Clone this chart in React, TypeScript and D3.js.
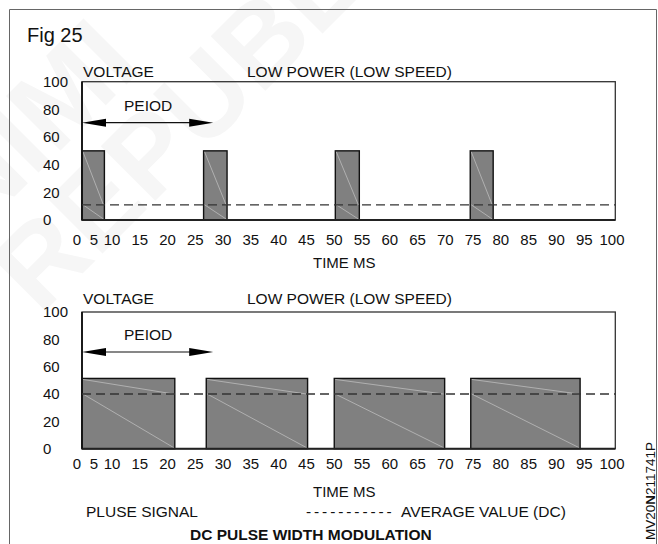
import React from 'react';
import * as d3 from 'd3';

const W = 658;
const H = 544;

// ---- data ----
const yTicks = [0, 20, 40, 60, 80, 100];
const xTickLabels = [0, 5, 10, 15, 20, 25, 30, 35, 40, 45, 50, 55, 60, 65, 70, 75, 80, 85, 90, 95, 100];

const topPulseStart = [0, 22.8, 47.5, 72.8];
const topPulseEnd = [4.2, 27.2, 52.0, 77.1];
const topPulseLevel = 50;
const topAverage = 11;

const bottomPulseStart = [0, 23.3, 47.3, 72.9];
const bottomPulseEnd = [17.4, 42.3, 68.0, 93.4];
const bottomPulseLevel = 51.4;
const bottomAverage = 40;

const periodSpan = [0, 24.6];

const FONT = "'Liberation Sans', Arial, Helvetica, sans-serif";

const x = d3.scaleLinear().domain([0, 100]).range([82, 615.3]);
// tick labels in the figure are typeset as a text row (not exactly on the plot scale)
const xLabel = d3.scaleLinear().domain([0, 5, 10, 100]).range([77, 94, 112, 612]);

type PanelProps = {
  top: number;
  bottom: number;
  starts: number[];
  ends: number[];
  level: number;
  avg: number;
  headerY: number;
  periodY: number;
  arrowY: number;
  tickY: number;
  titleY: number;
};

function Panel(p: PanelProps) {
  const y = d3.scaleLinear().domain([0, 100]).range([p.bottom, p.top]);
  const x0 = x(periodSpan[0]);
  const x1 = x(periodSpan[1]);
  const headLen = 24;
  const headHalf = 4;
  return (
    <g>
      <text x={83} y={p.headerY} fontSize={15.5} fill="#111">VOLTAGE</text>
      <text x={247} y={p.headerY} fontSize={15.5} fill="#111">LOW POWER (LOW SPEED)</text>
      {yTicks.map((t) => (
        <text key={t} x={43} y={y(t)} dy="0.36em" fontSize={15} fill="#111">{t}</text>
      ))}
      {/* pulses */}
      {p.starts.map((s, i) => {
        const bx0 = x(s);
        const bx1 = x(p.ends[i]);
        return (
          <g key={i}>
            <rect x={bx0} y={y(p.level)} width={bx1 - bx0} height={y(0) - y(p.level)}
              fill="#808080" stroke="#111" strokeWidth={1.4} />
            <line x1={bx0 + 1} y1={y(p.level) + 1} x2={bx1 - 1} y2={y(p.avg)} stroke="#c4c4c4" strokeWidth={0.7} />
            <line x1={bx0 + 1} y1={y(p.avg)} x2={bx1 - 1} y2={y(0) - 1} stroke="#c4c4c4" strokeWidth={0.7} />
          </g>
        );
      })}
      {/* plot frame */}
      <rect x={x(0)} y={p.top} width={x(100) - x(0)} height={p.bottom - p.top}
        fill="none" stroke="#333" strokeWidth={1.3} />
      <line x1={x(0)} y1={p.bottom} x2={x(100)} y2={p.bottom} stroke="#222" strokeWidth={2} />
      <line x1={x(0)} y1={p.top} x2={x(0)} y2={p.bottom} stroke="#111" strokeWidth={1.8} />
      {/* average (DC) */}
      <line x1={x(0)} y1={y(p.avg)} x2={x(100)} y2={y(p.avg)} stroke="#333" strokeWidth={1.3} strokeDasharray="9,5" />
      {/* period arrow */}
      <text x={124} y={p.periodY} fontSize={15.5} fill="#111">PEIOD</text>
      <line x1={x0 + headLen - 2} y1={p.arrowY} x2={x1 - headLen + 2} y2={p.arrowY} stroke="#111" strokeWidth={1.2} />
      <path d={`M${x0},${p.arrowY} L${x0 + headLen},${p.arrowY - headHalf} L${x0 + headLen},${p.arrowY + headHalf} Z`} fill="#000" />
      <path d={`M${x1},${p.arrowY} L${x1 - headLen},${p.arrowY - headHalf} L${x1 - headLen},${p.arrowY + headHalf} Z`} fill="#000" />
      {/* x tick labels */}
      {xTickLabels.map((t) => (
        <text key={t} x={xLabel(t)} y={p.tickY} fontSize={15} textAnchor="middle" fill="#111">{t}</text>
      ))}
      <text x={313} y={p.titleY} fontSize={15} fill="#111">TIME MS</text>
    </g>
  );
}

export default function App() {
  return (
    <svg width={W} height={H} style={{ position: 'absolute', left: 0, top: 0, background: '#fff' }}
      fontFamily={FONT}>
      <rect x={0} y={0} width={W} height={H} fill="#fff" />
      {/* faint watermark */}
      <g fill="#f6f6f6" fontWeight="bold" fontSize={112}>
        <text transform="translate(-24,235) rotate(-45)">NIMI</text>
        <text transform="translate(40,316) rotate(-45)">REPUBLISHED</text>
      </g>
      {/* outer frame */}
      <path d={`M9.5,${H} L9.5,9.5 L656.5,9.5 L656.5,${H}`} fill="none" stroke="#666" strokeWidth={1} />
      <text x={27} y={42} fontSize={20} fill="#111">Fig 25</text>

      <Panel top={81.7} bottom={220} starts={topPulseStart} ends={topPulseEnd}
        level={topPulseLevel} avg={topAverage}
        headerY={77} periodY={111} arrowY={122.7} tickY={245} titleY={268} />
      <Panel top={312} bottom={448.7} starts={bottomPulseStart} ends={bottomPulseEnd}
        level={bottomPulseLevel} avg={bottomAverage}
        headerY={304} periodY={340} arrowY={352} tickY={469} titleY={497} />

      <text x={86} y={517} fontSize={15.5} fill="#111">PLUSE SIGNAL</text>
      <text x={306} y={517} fontSize={15.5} fill="#111" letterSpacing={2.9}>-----------</text>
      <text x={401} y={517} fontSize={15.5} fill="#111">AVERAGE VALUE (DC)</text>
      <text x={190} y={540} fontSize={15.5} fontWeight="bold" fill="#111">DC PULSE WIDTH MODULATION</text>

      <text transform="translate(654.5,442) rotate(-90)" textAnchor="end" fontSize={13.5} fill="#111">
        MV20<tspan fontWeight="bold">N</tspan>211741P
      </text>
    </svg>
  );
}
